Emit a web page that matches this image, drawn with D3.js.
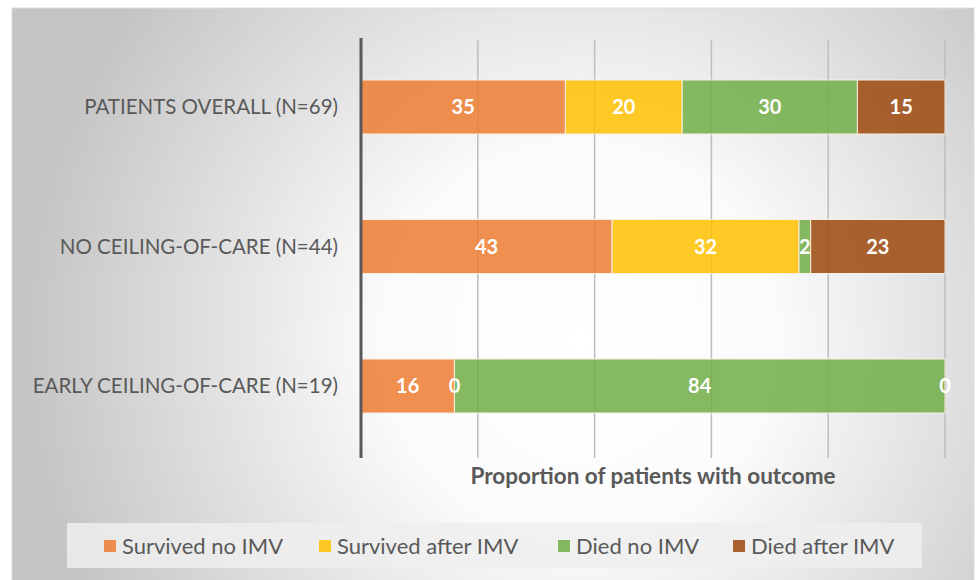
<!DOCTYPE html>
<html><head><meta charset="utf-8">
<script src="https://cdn.jsdelivr.net/npm/d3@7"></script>
<style>html,body{margin:0;padding:0;background:#fff;}svg{display:block;}</style>
</head><body>
<script>
const categories = ["PATIENTS OVERALL (N=69)", "NO CEILING-OF-CARE (N=44)", "EARLY CEILING-OF-CARE (N=19)"];
const seriesNames = ["Survived no IMV", "Survived after IMV", "Died no IMV", "Died after IMV"];
const survivedNoIMV   = [35, 43, 16];
const survivedAfterIMV = [20, 32, 0];
const diedNoIMV       = [30, 2, 84];
const diedAfterIMV    = [15, 23, 0];
const xTicks = [0, 20, 40, 60, 80, 100];
const colors = ["#ED7D31", "#FFC000", "#70AD47", "#9E480E"];

const W = 976, H = 580;
const svg = d3.select("body").append("svg").attr("width", W).attr("height", H);
const defs = svg.append("defs");
const grad = defs.append("radialGradient").attr("id", "bg")
  .attr("gradientUnits", "userSpaceOnUse").attr("cx", 580).attr("cy", 340).attr("r", 560);
grad.append("stop").attr("offset", 0).attr("stop-color", "#ffffff");
grad.append("stop").attr("offset", 0.35).attr("stop-color", "#fbfbfb");
grad.append("stop").attr("offset", 1).attr("stop-color", "#c4c4c4");

svg.append("rect").attr("x", 12).attr("y", 8).attr("width", 962).attr("height", 580)
  .attr("fill", "url(#bg)").attr("stroke", "#dcdcdc").attr("stroke-width", 1);

const x = d3.scaleLinear().domain([0, 100]).range([361, 945]);
const y = d3.scaleBand().domain(categories).range([38.15, 454.85]).paddingInner(0.613).paddingOuter(0.3);

// gridlines
svg.append("g").selectAll("line").data(xTicks.slice(1)).join("line")
  .attr("x1", d => x(d)).attr("x2", d => x(d)).attr("y1", 40).attr("y2", 458)
  .attr("stroke", "#bdbdbd").attr("stroke-width", 1.5);

const series = [survivedNoIMV, survivedAfterIMV, diedNoIMV, diedAfterIMV];
const rows = categories.map((c, i) => {
  const o = {cat: c};
  seriesNames.forEach((s, j) => o[s] = series[j][i]);
  return o;
});
const stacked = d3.stack().keys(seriesNames)(rows);

const font = "Lato, 'Open Sans', sans-serif";

const barG = svg.append("g");
const lblG = svg.append("g");
stacked.forEach((layer, j) => {
  barG.append("g").selectAll("rect").data(layer).join("rect")
    .attr("x", d => x(d[0])).attr("width", d => x(d[1]) - x(d[0]))
    .attr("y", d => y(d.data.cat)).attr("height", y.bandwidth())
    .attr("fill", colors[j]).attr("fill-opacity", 0.85)
    .attr("stroke", "#fbeee0").attr("stroke-width", 1);
  lblG.append("g").selectAll("text").data(layer).join("text")
    .attr("x", d => (x(d[0]) + x(d[1])) / 2)
    .attr("y", d => y(d.data.cat) + y.bandwidth() / 2)
    .attr("dy", "0.36em").attr("text-anchor", "middle")
    .attr("font-family", font).attr("font-weight", "bold").attr("font-size", 20)
    .attr("fill", "#ffffff")
    .text(d => d[1] - d[0]);
});

// axis line
svg.append("line").attr("x1", 361).attr("x2", 361).attr("y1", 38).attr("y2", 458)
  .attr("stroke", "#595959").attr("stroke-width", 3);

// category labels
svg.append("g").selectAll("text").data(categories).join("text")
  .attr("x", 338).attr("y", d => y(d) + y.bandwidth() / 2).attr("dy", "0.36em")
  .attr("text-anchor", "end").attr("font-family", font).attr("font-size", 20.5)
  .attr("fill", "#595959").text(d => d);

// axis title
svg.append("text").attr("x", 653).attr("y", 484).attr("text-anchor", "middle")
  .attr("font-family", font).attr("font-weight", "bold").attr("font-size", 22.5)
  .attr("fill", "#595959").text("Proportion of patients with outcome");

// legend
svg.append("rect").attr("x", 67).attr("y", 523).attr("width", 855).attr("height", 45)
  .attr("fill", "#efefef").attr("fill-opacity", 0.85);
const legX = [104, 319, 558, 733];
const lg = svg.append("g").selectAll("g").data(seriesNames).join("g")
  .attr("transform", (d, i) => `translate(${legX[i]},0)`);
lg.append("rect").attr("x", 0).attr("y", 540).attr("width", 12).attr("height", 12)
  .attr("fill", (d, i) => colors[i]).attr("fill-opacity", 0.85);
lg.append("text").attr("x", 18).attr("y", 546).attr("dy", "0.36em")
  .attr("font-family", font).attr("font-size", 22).attr("fill", "#595959").text(d => d);
</script>
</body></html>
